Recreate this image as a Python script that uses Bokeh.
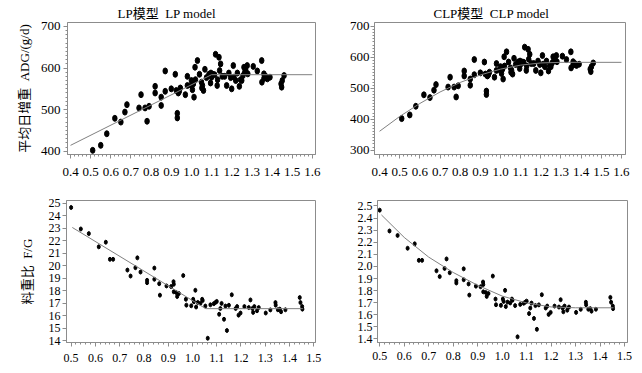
import numpy as np
from bokeh.plotting import figure
from bokeh.layouts import column, row
from bokeh.models import FixedTicker, PrintfTickFormatter, Range1d
from bokeh.embed import file_html
from bokeh.resources import INLINE

# ---------------- data ----------------
titles = ["LP模型\u00a0 LP model", "CLP模型\u00a0 CLP model"]
ylabel_adg = "平均日增重\u00a0 ADG/(g/d)"
ylabel_fg = "料重比\u00a0 F/G"

x_adg = [0.51, 0.55, 0.58, 0.62, 0.65, 0.67, 0.68, 0.74, 0.75, 0.77,
         0.78, 0.79, 0.82, 0.82, 0.85, 0.85, 0.87, 0.87, 0.90, 0.92,
         0.925, 0.93, 0.93, 0.935, 0.94, 0.945, 0.97, 0.98, 0.98, 1.00,
         1.005, 1.01, 1.013, 1.018, 1.03, 1.04, 1.05, 1.052, 1.06, 1.067,
         1.075, 1.087, 1.095, 1.097, 1.107, 1.12, 1.128, 1.137, 1.14, 1.145,
         1.153, 1.165, 1.175, 1.186, 1.195, 1.20, 1.208, 1.211, 1.22, 1.228,
         1.238, 1.244, 1.256, 1.261, 1.27, 1.277, 1.28, 1.307, 1.327, 1.349,
         1.35, 1.36, 1.369, 1.377, 1.39, 1.448, 1.451, 1.46,
         1.00, 1.02, 1.055, 1.10, 1.115, 1.13, 1.25, 1.265, 1.36, 1.445]
adg = [402, 414, 442, 479, 470, 494, 512, 504, 536, 504,
       472, 508, 556, 540, 530, 510, 593, 544, 550, 585,
       546, 491, 480, 540, 544, 552, 536, 558, 580, 570,
       548, 562, 530, 602, 618, 585, 566, 552, 546, 597,
       577, 585, 564, 588, 585, 633, 558, 626, 594, 610,
       580, 580, 558, 588, 577, 550, 606, 578, 570, 588,
       556, 572, 582, 602, 594, 606, 586, 604, 593, 618,
       566, 586, 580, 574, 578, 554, 570, 582,
       558, 572, 558, 578, 584, 572, 570, 590, 575, 562]

x_fg = [0.50, 0.54, 0.573, 0.614, 0.643, 0.66, 0.673, 0.732, 0.745, 0.765,
        0.773, 0.786, 0.813, 0.813, 0.843, 0.843, 0.863, 0.866, 0.893, 0.912,
        0.922, 0.923, 0.923, 0.933, 0.937, 0.944, 0.962, 0.973, 0.975, 0.995,
        1.003, 1.006, 1.012, 1.015, 1.022, 1.033, 1.04, 1.042, 1.053, 1.063,
        1.074, 1.088, 1.095, 1.10, 1.11, 1.115, 1.12, 1.13, 1.136, 1.142,
        1.15, 1.162, 1.178, 1.184, 1.19, 1.198, 1.214, 1.232, 1.239, 1.247,
        1.25, 1.255, 1.266, 1.273, 1.302, 1.321, 1.342, 1.343, 1.352, 1.36,
        1.365, 1.383, 1.442, 1.445, 1.452, 1.453]
fg = [24.65, 22.93, 22.56, 21.5, 21.87, 20.5, 20.5, 19.64, 19.16, 19.83,
      20.62, 19.48, 18.82, 18.63, 19.8, 18.9, 18.55, 17.63, 18.37, 18.32,
      18.71, 18.5, 17.9, 17.84, 17.52, 17.76, 19.2, 17.3, 16.83, 16.78,
      17.3, 17.1, 18.02, 16.68, 17.05, 16.98, 17.3, 17.2, 16.76, 14.18,
      16.86, 16.95, 17.05, 17.13, 16.1, 16.56, 16.97, 15.7, 16.76, 14.8,
      16.82, 17.66, 16.56, 16.72, 16.03, 16.2, 16.72, 16.64, 17.25, 16.56,
      16.25, 16.72, 16.38, 16.64, 16.2, 16.45, 17.04, 16.83, 16.46, 16.51,
      16.3, 16.46, 17.44, 17.04, 16.72, 16.51]
fg_ratio = [v / 10 for v in fg]   # same data on the ratio scale (right panel)

# fitted model lines
lp_adg_x = [0.40, 1.10, 1.60]
lp_adg_y = [414, 584, 584]
clp_adg_x = [0.40, 0.50, 0.60, 0.70, 0.80, 0.90, 1.00, 1.10, 1.20, 1.30, 1.60]
clp_adg_y = [361, 409, 451, 488, 519, 543, 562, 575, 582, 584, 584]
lp_fg_x = [0.505, 1.055, 1.455]
lp_fg_y = [23.05, 16.55, 16.55]
clp_fg_x = [0.507, 0.60, 0.70, 0.80, 0.90, 1.00, 1.10, 1.20, 1.30, 1.455]
clp_fg_y = [2.426, 2.24, 2.077, 1.95, 1.844, 1.755, 1.698, 1.665, 1.658, 1.658]

# ticks
xt_top = [0.4, 0.5, 0.6, 0.7, 0.8, 0.9, 1.0, 1.1, 1.2, 1.3, 1.4, 1.5, 1.6]
xt_bot = [0.5, 0.6, 0.7, 0.8, 0.9, 1.0, 1.1, 1.2, 1.3, 1.4, 1.5]
yt_lp_adg = [400, 500, 600, 700]
yt_clp_adg = [300, 400, 500, 600, 700]
yt_lp_fg = [14, 15, 16, 17, 18, 19, 20, 21, 22, 23, 24, 25]
yt_clp_fg = [1.4, 1.5, 1.6, 1.7, 1.8, 1.9, 2.0, 2.1, 2.2, 2.3, 2.4, 2.5]

# ---------------- styling ----------------
FONT = "'Liberation Serif', 'Noto Sans CJK SC'"
GRAY = "#8c8c8c"
LINE = "#808080"


def make_fig(w, h, bl, br, bt, bb, xr, yr, fs, lab_standoff, title=None, title_offset=0):
    p = figure(width=w, height=h, x_range=Range1d(*xr), y_range=Range1d(*yr),
               output_backend="svg", toolbar_location=None, title=title,
               min_border_left=bl, min_border_right=br,
               min_border_top=bt, min_border_bottom=bb)
    if title:
        p.title.text_font = FONT
        p.title.text_font_size = "13px"
        p.title.text_font_style = "normal"
        p.title.text_color = "black"
        p.title.align = "left"
        p.title.offset = title_offset
        p.title.standoff = 4
    p.grid.visible = False
    p.outline_line_color = GRAY
    p.background_fill_color = "white"
    p.border_fill_color = "white"
    for ax in (p.xaxis[0], p.yaxis[0]):
        ax.axis_line_color = GRAY
        ax.major_tick_line_color = GRAY
        ax.minor_tick_line_color = GRAY
        ax.major_tick_in = 0
        ax.major_tick_out = 4
        ax.minor_tick_in = 0
        ax.minor_tick_out = 2
        ax.major_label_text_font = FONT
        ax.major_label_text_font_size = fs
        ax.major_label_text_color = "black"
        ax.axis_label_text_font = FONT
        ax.axis_label_text_font_size = "13px"
        ax.axis_label_text_font_style = "normal"
        ax.axis_label_text_color = "black"
    p.yaxis[0].major_label_standoff = lab_standoff
    return p


def minors(a, b, step):
    return np.round(np.arange(a, b + step / 2, step), 4).tolist()


# top-left: LP ADG
p1 = make_fig(340, 184, 67, 25, 22, 30, (0.385, 1.616), (392, 709.6), "13px", 3,
              title=titles[0], title_offset=50)
p1.xaxis[0].ticker = FixedTicker(ticks=xt_top, minor_ticks=minors(0.4, 1.6, 0.02))
p1.yaxis[0].ticker = FixedTicker(ticks=yt_lp_adg, minor_ticks=minors(400, 700, 10))
p1.xaxis[0].formatter = PrintfTickFormatter(format="%.1f")
p1.xaxis[0].major_label_standoff = 9
p1.yaxis[0].axis_label = ylabel_adg
p1.yaxis[0].axis_label_standoff = 6
p1.ellipse(x=x_adg, y=adg, width=4.5, height=6, width_units="screen",
           height_units="screen", color="black")
p1.line(lp_adg_x, lp_adg_y, line_color=LINE, line_width=1)

# top-right: CLP ADG
p2 = make_fig(302, 184, 34, 17, 22, 29, (0.375, 1.62), (286, 712.8), "13px", 1,
              title=titles[1], title_offset=59)
p2.xaxis[0].ticker = FixedTicker(ticks=xt_top, minor_ticks=minors(0.4, 1.6, 0.02))
p2.yaxis[0].ticker = FixedTicker(ticks=yt_clp_adg, minor_ticks=minors(300, 700, 10))
p2.xaxis[0].formatter = PrintfTickFormatter(format="%.1f")
p2.xaxis[0].major_label_standoff = 9
p2.ellipse(x=x_adg, y=adg, width=4.5, height=6, width_units="screen",
           height_units="screen", color="black")
p2.line(clp_adg_x, clp_adg_y, line_color=LINE, line_width=1)

# bottom-left: LP F/G
p3 = make_fig(340, 189, 66, 25, 15, 31, (0.481, 1.507), (13.84, 25.21), "12px", 2)
p3.xaxis[0].ticker = FixedTicker(ticks=xt_bot, minor_ticks=minors(0.5, 1.5, 0.02))
p3.yaxis[0].ticker = FixedTicker(ticks=yt_lp_fg, minor_ticks=[])
p3.xaxis[0].formatter = PrintfTickFormatter(format="%.1f")
p3.xaxis[0].major_label_standoff = 7
p3.yaxis[0].axis_label = ylabel_fg
p3.yaxis[0].axis_label_standoff = 11
p3.ellipse(x=x_fg, y=fg, width=3, height=4, width_units="screen",
           height_units="screen", color="black")
p3.line(lp_fg_x, lp_fg_y, line_color=LINE, line_width=1)

# bottom-right: CLP F/G
p4 = make_fig(302, 189, 37, 15, 16, 25, (0.491, 1.512), (1.371, 2.545), "12px", 1)
p4.xaxis[0].ticker = FixedTicker(ticks=xt_bot, minor_ticks=minors(0.5, 1.5, 0.02))
p4.yaxis[0].ticker = FixedTicker(ticks=yt_clp_fg, minor_ticks=[])
p4.xaxis[0].formatter = PrintfTickFormatter(format="%.1f")
p4.yaxis[0].formatter = PrintfTickFormatter(format="%.1f")
p4.xaxis[0].major_label_standoff = 5
p4.ellipse(x=x_fg, y=fg_ratio, width=3, height=4, width_units="screen",
           height_units="screen", color="black")
p4.line(clp_fg_x, clp_fg_y, line_color=LINE, line_width=1)

layout = column(row(p1, p2), row(p3, p4))

html = file_html(layout, INLINE)
html = html.replace("</head>", "<style>html,body{overflow:hidden;}</style></head>", 1)
open("out.html", "w").write(html)
